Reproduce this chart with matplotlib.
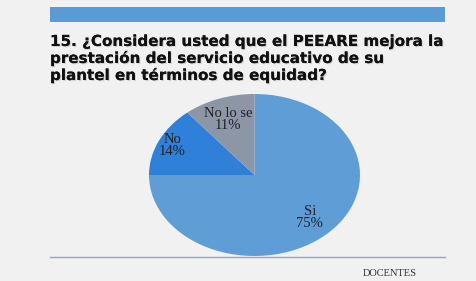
import numpy as np
import matplotlib.pyplot as plt
import matplotlib.patheffects as pe

# survey answers
labels = ["Si", "No", "No lo se"]
values = [75, 14, 11]
colors = ["#5E9DD6", "#2F80D8", "#8C96A6"]
label_dist = [0.74, 0.86, 0.73]

title = ("15. ¿Considera usted que el PEEARE mejora la\n"
         "prestación del servicio educativo de su\n"
         "plantel en términos de equidad?")
footer = "DOCENTES"

W, H = 477, 281
fig = plt.figure(figsize=(W / 100, H / 100), dpi=100)
fig.patch.set_facecolor("#F1F1F1")

# background axes in pixel coords for decorations
bg = fig.add_axes([0, 0, 1, 1])
bg.set_xlim(0, W)
bg.set_ylim(H, 0)
bg.axis("off")

bg.add_patch(plt.Rectangle((50, 7), 395, 15, color="#5B9BD5", lw=0))
bg.plot([50, 445], [257, 257], color="#8FA9C4", lw=1)

bg.text(50, 80, title, fontsize=10.9, fontweight="heavy",
        family="DejaVu Sans", color="#111111", va="baseline", linespacing=1.08,
        path_effects=[pe.withSimplePatchShadow(offset=(0.8, -0.8), shadow_rgbFace="#999999", alpha=0.35),
                      pe.Normal()])
bg.text(390, 274, footer, fontsize=7.5, family="Liberation Serif",
        color="#333333", ha="center", va="center")

# the pie (elliptical, not equal aspect)
ax = fig.add_axes([149 / W, (H - 256) / H, 211 / W, 162 / H])
wedges, _ = ax.pie(values, colors=colors, startangle=90, counterclock=False,
                   wedgeprops=dict(linewidth=0))
ax.set_aspect("auto")
ax.set_xlim(-1, 1)
ax.set_ylim(-1, 1)
ax.axis("off")

for w, lab, v, d in zip(wedges, labels, values, label_dist):
    ang = np.deg2rad((w.theta1 + w.theta2) / 2)
    ax.text(d * np.cos(ang), d * np.sin(ang), f"{lab}\n{v}%",
            ha="center", va="center", fontsize=10.5, family="Liberation Serif",
            color="#222222", linespacing=0.9)

fig.savefig("out.png", dpi=100, facecolor=fig.get_facecolor())
